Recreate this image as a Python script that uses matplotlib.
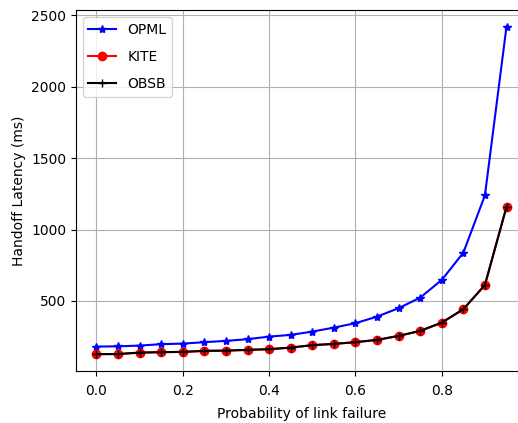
import matplotlib
matplotlib.use('Agg')
import matplotlib.pyplot as plt
import numpy as np

# probability of link failure
prob = [0.0, 0.05, 0.1, 0.15, 0.2, 0.25, 0.3, 0.35, 0.4, 0.45,
        0.5, 0.55, 0.6, 0.65, 0.7, 0.75, 0.8, 0.85, 0.9, 0.95]

# handoff latency (ms)
opml = [180, 182, 187, 197, 201, 211, 220, 232, 250, 262,
        285, 313, 344, 390, 449, 523, 647, 838, 1240, 2422]
kite = [127, 128, 138, 141, 143, 150, 152, 157, 162, 173,
        190, 199, 211, 227, 255, 290, 348, 442, 612, 1159]
obsb = kite

fig = plt.figure(figsize=(5.18, 4.23), dpi=100)
ax = fig.add_axes([0.1467, 0.124, 0.8707, 0.852])

ax.plot(prob, opml, color='blue', marker='*', label='OPML')
ax.plot(prob, kite, color='red', marker='o', label='KITE')
ax.plot(prob, obsb, color='black', marker='+', label='OBSB')

ax.set_xlabel('Probability of link failure', labelpad=7)
ax.set_ylabel('Handoff Latency (ms)')
ax.tick_params(axis='x', pad=6)
ax.spines['right'].set_visible(False)
ax.grid(True)
ax.legend(loc='upper left', labelspacing=0.95)

fig.savefig('out.png', dpi=100)
